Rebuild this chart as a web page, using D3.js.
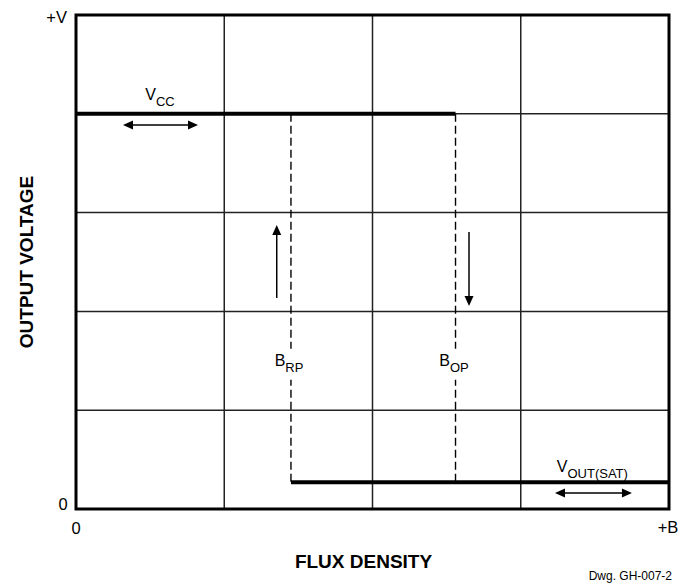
<!DOCTYPE html>
<html><head><meta charset="utf-8">
<script src="https://cdn.jsdelivr.net/npm/d3@7"></script>
<style>body{margin:0;background:#fff}svg{font-family:"Liberation Sans",Arial,Helvetica,sans-serif}</style>
</head><body>
<svg id="c" width="688" height="583"></svg>
<script>
// ---- data (grid units: x 0..4, y 0..5) ----
const xGrid = [0, 1, 2, 3, 4];
const yGrid = [0, 1, 2, 3, 4, 5];
const xTickLabels = ["0", "+B"];
const yTickLabels = ["0", "+V"];
const vcc = 4.0;
const voutSat = 0.27;
const bRP = 1.45;
const bOP = 2.56;
const highLine = [[0, vcc], [bOP, vcc]];
const lowLine = [[bRP, voutSat], [4, voutSat]];
const dashedLines = [[bRP, vcc, voutSat], [bOP, vcc, voutSat]];
const dblArrows = [[0.317, 0.823, 3.887], [3.231, 3.75, 0.162]];
const vArrows = [[1.354, 2.136, 2.874], [2.651, 2.804, 2.055]];

const svg = d3.select("#c");
const x = d3.scaleLinear().domain([0, 4]).range([76, 669]);
const y = d3.scaleLinear().domain([0, 5]).range([509, 15]);

// grid
svg.append("g").selectAll("line").data(xGrid.slice(1, -1)).join("line")
  .attr("x1", d => x(d)).attr("x2", d => x(d)).attr("y1", y(0)).attr("y2", y(5))
  .attr("stroke", "#222").attr("stroke-width", 1.5);
svg.append("g").selectAll("line").data(yGrid.slice(1, -1)).join("line")
  .attr("x1", x(0)).attr("x2", x(4)).attr("y1", d => y(d)).attr("y2", d => y(d))
  .attr("stroke", "#222").attr("stroke-width", 1.5);

// dashed
svg.append("g").selectAll("line").data(dashedLines).join("line")
  .attr("x1", d => x(d[0])).attr("x2", d => x(d[0])).attr("y1", d => y(d[1])).attr("y2", d => y(d[2]))
  .attr("stroke", "#000").attr("stroke-width", 1.4).attr("stroke-dasharray", "8,4");

// heavy step lines
const line = d3.line().x(d => x(d[0])).y(d => y(d[1]));
[highLine, lowLine].forEach(l => svg.append("path").attr("d", line(l))
  .attr("fill", "none").attr("stroke", "#000").attr("stroke-width", 4));

// border
svg.append("rect").attr("x", x(0)).attr("y", y(5)).attr("width", x(4) - x(0)).attr("height", y(0) - y(5))
  .attr("fill", "none").attr("stroke", "#000").attr("stroke-width", 3);

// arrowheads
function head(px, py, dx, dy) {
  const L = 10, W = 4.5;
  const bx = px - dx * L, by = py - dy * L;
  const nx = -dy, ny = dx;
  svg.append("path").attr("d", `M${px},${py}L${bx + nx * W},${by + ny * W}L${bx - nx * W},${by - ny * W}Z`).attr("fill", "#000");
}
dblArrows.forEach(a => {
  const x1 = x(a[0]), x2 = x(a[1]), yy = y(a[2]);
  svg.append("line").attr("x1", x1 + 5).attr("x2", x2 - 5).attr("y1", yy).attr("y2", yy).attr("stroke", "#000").attr("stroke-width", 1.5);
  head(x1, yy, -1, 0); head(x2, yy, 1, 0);
});
vArrows.forEach(a => {
  const xx = x(a[0]), y1 = y(a[1]), y2 = y(a[2]);
  const dir = y2 < y1 ? -1 : 1;
  svg.append("line").attr("x1", xx).attr("x2", xx).attr("y1", y1).attr("y2", y2 - dir * 5).attr("stroke", "#000").attr("stroke-width", 1.5);
  head(xx, y2, 0, dir);
});

// tick labels
const tf = 16.5;
svg.append("text").attr("x", x(0) - 13).attr("y", y(0) + 1).attr("text-anchor", "middle").attr("font-size", tf).text(yTickLabels[0]);
svg.append("text").attr("x", x(0) - 9).attr("y", y(5) + 8).attr("text-anchor", "end").attr("font-size", tf).text(yTickLabels[1]);
svg.append("text").attr("x", x(0)).attr("y", y(0) + 25).attr("text-anchor", "middle").attr("font-size", tf).text(xTickLabels[0]);
svg.append("text").attr("x", x(4) - 1).attr("y", y(0) + 24).attr("text-anchor", "middle").attr("font-size", tf).text(xTickLabels[1]);

// subscript labels
function sub(cx, by, main, s, knock) {
  const g = svg.append("g");
  const t = g.append("text").attr("x", cx).attr("y", by).attr("font-size", 16).attr("text-anchor", "start");
  t.append("tspan").text(main);
  t.append("tspan").attr("font-size", 13).attr("dy", 6).text(s);
  if (knock) {
    const b = t.node().getBBox();
    g.insert("rect", "text").attr("x", b.x - 1).attr("y", b.y - 3).attr("width", b.width + 2).attr("height", b.height + 8).attr("fill", "#fff");
  }
}
sub(x(0.467), y(4) - 14, "V", "CC", false);
sub(x(1.34), y(1.45), "B", "RP", true);
sub(x(2.45), y(1.45), "B", "OP", true);
sub(x(3.243), y(0.375), "V", "OUT(SAT)", false);

// axis titles
svg.append("text").attr("transform", `translate(33,${(y(0) + y(5)) / 2}) rotate(-90)`)
  .attr("text-anchor", "middle").attr("font-weight", "bold").attr("font-size", 19).text("OUTPUT VOLTAGE");
svg.append("text").attr("x", (x(0) + x(4)) / 2 - 9).attr("y", 568).attr("text-anchor", "middle")
  .attr("font-weight", "bold").attr("font-size", 19).text("FLUX DENSITY");
svg.append("text").attr("x", 672).attr("y", 580).attr("text-anchor", "end").attr("font-size", 12).text("Dwg. GH-007-2");
</script>
</body></html>
